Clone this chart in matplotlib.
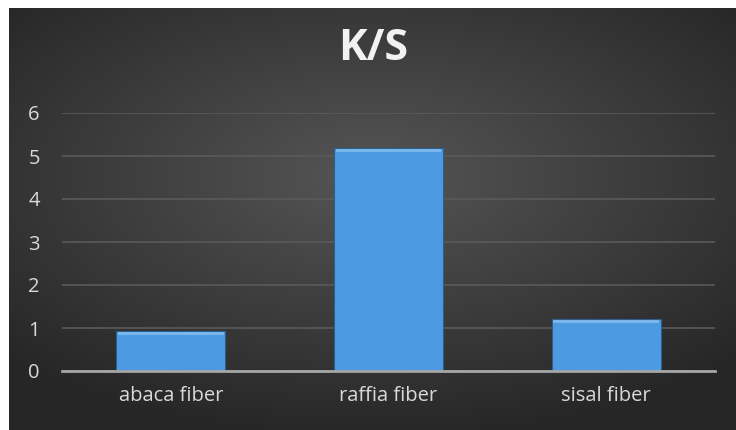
import numpy as np
import matplotlib.pyplot as plt

# data
fibers = ['abaca fiber', 'raffia fiber', 'sisal fiber']
ks_values = [0.93, 5.19, 1.21]
y_ticks = [0, 1, 2, 3, 4, 5, 6]

plt.rcParams['font.family'] = ['Open Sans', 'DejaVu Sans']

fig = plt.figure(figsize=(7.36, 4.30), dpi=100)
fig.patch.set_facecolor('white')

# dark radial background (starts a few px in from top/left like the original)
bg = fig.add_axes([9/736, 0, 1 - 9/736, 1 - 8/430])
bg.set_axis_off()
xx, yy = np.meshgrid(np.linspace(-1, 1, 400), np.linspace(-1, 1, 240))
r = np.sqrt((xx * 0.9) ** 2 + ((yy + 0.2) * 1.0) ** 2)
shade = 0.335 - 0.185 * np.clip(r / 1.25, 0, 1)
bg.imshow(np.dstack([shade] * 3), aspect='auto', extent=[0, 1, 0, 1], zorder=0)

ax = fig.add_axes([62/736, (430-371)/430, (715-62)/736, (371-113)/430])
ax.set_facecolor('none')

x = np.arange(len(fibers))
bars = ax.bar(x, ks_values, width=0.5, color='#4c9be0', edgecolor='#2a5f8f',
              linewidth=0.8, zorder=3)
# soft bevel highlight along the top of each bar
for b in bars:
    h = b.get_height()
    ax.bar(b.get_x() + b.get_width() / 2, 0.08, width=b.get_width() * 0.97,
           bottom=h - 0.1, color='#78b6ec', linewidth=0, zorder=4)

ax.set_xlim(-0.5, 2.5)
ax.set_ylim(0, 6)
ax.set_yticks(y_ticks)
ax.set_xticks(x)
ax.set_xticklabels(fibers)
ax.yaxis.grid(True, color='#5a5a5a', linewidth=1.2, zorder=0)
ax.set_axisbelow(True)
for s in ['top', 'right', 'left']:
    ax.spines[s].set_visible(False)
ax.spines['bottom'].set_color('#a6a6a6')
ax.spines['bottom'].set_linewidth(2)
ax.spines['bottom'].set_zorder(5)
ax.tick_params(axis='both', length=0, colors='#d9d9d9', labelsize=14.5)
ax.tick_params(axis='y', pad=16)
ax.tick_params(axis='x', pad=11)

fig.text(373/736, 1 - 49/430, 'K/S', ha='center', va='center', fontsize=31,
         fontweight='bold', color='#f2f2f2')

fig.savefig('out.png', dpi=100)
